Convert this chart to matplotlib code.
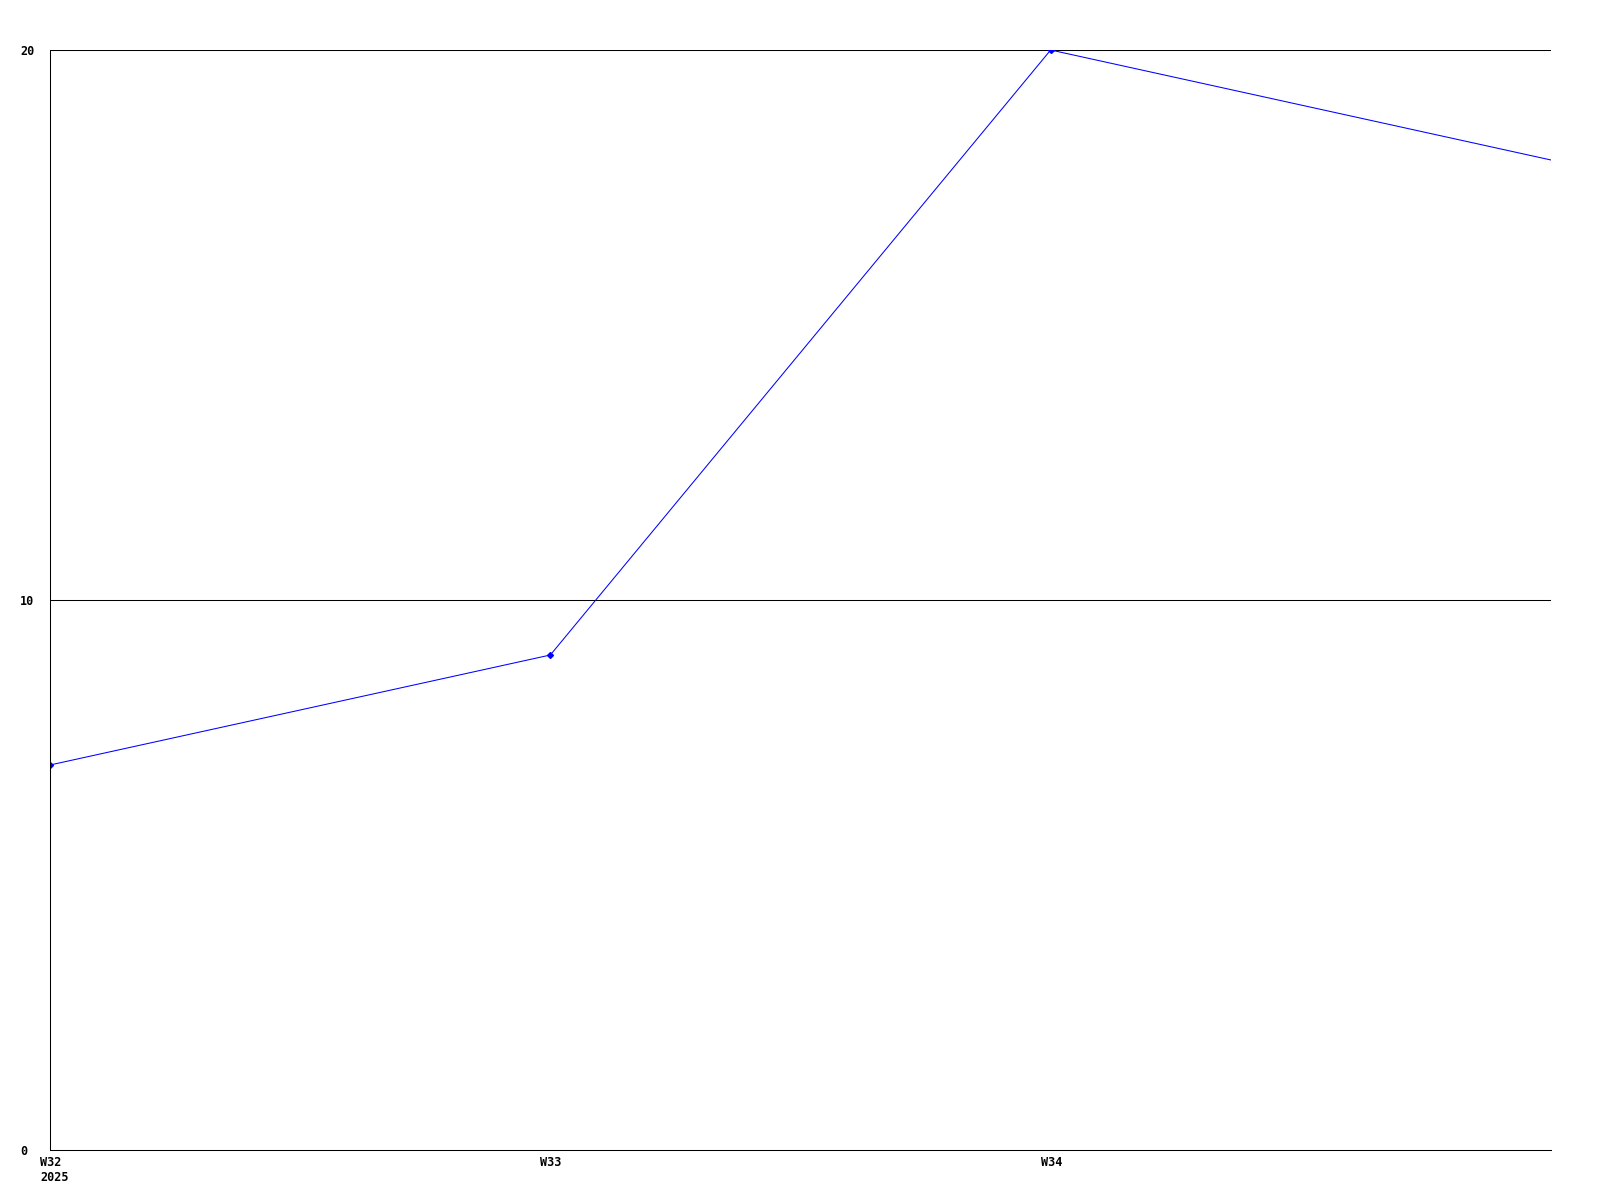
import matplotlib
matplotlib.use("Agg")
import matplotlib.pyplot as plt
from matplotlib.transforms import ScaledTranslation

weeks = ["W32\n2025", "W33", "W34", "W35"]
values = [7, 9, 20, 18]
y_ticks = [0, 10, 20]
y_labels = ["0", "10", "20"]

plt.rcParams['font.family'] = ['DejaVu Sans Mono']

fig = plt.figure(figsize=(16, 12), dpi=100)
ax = fig.add_axes([50/1600, 50/1200, 1501/1600, 1100/1200])

x = list(range(len(values)))
ax.plot(x, values, color="#0000ff", linewidth=0.75, marker="D", markersize=3,
        markevery=[0, 1, 2], antialiased=True)

ax.set_xlim(0, 3)
ax.set_ylim(0, 20)

ax.set_yticks(y_ticks)
ax.set_yticklabels(y_labels, fontsize=8.5, fontweight="bold", ha="left")
ax.tick_params(axis="y", length=0, pad=21.6)
ax.set_xticks(x[:3])
ax.set_xticklabels(weeks[:3], fontsize=8.5, fontweight="bold", ha="left", va="top",
                   linespacing=1.2)
ax.tick_params(axis="x", length=0, pad=4.5)
offset = ScaledTranslation(-10/100, 0, fig.dpi_scale_trans)
for lab in ax.get_xticklabels():
    lab.set_transform(lab.get_transform() + offset)

for v in y_ticks[1:]:
    ax.axhline(v, color="black", linewidth=0.75, zorder=1)

for s in ["top", "right"]:
    ax.spines[s].set_visible(False)
for s in ["left", "bottom"]:
    ax.spines[s].set_color("black")
    ax.spines[s].set_linewidth(0.75)

fig.savefig("out.png", dpi=100, facecolor="white")
